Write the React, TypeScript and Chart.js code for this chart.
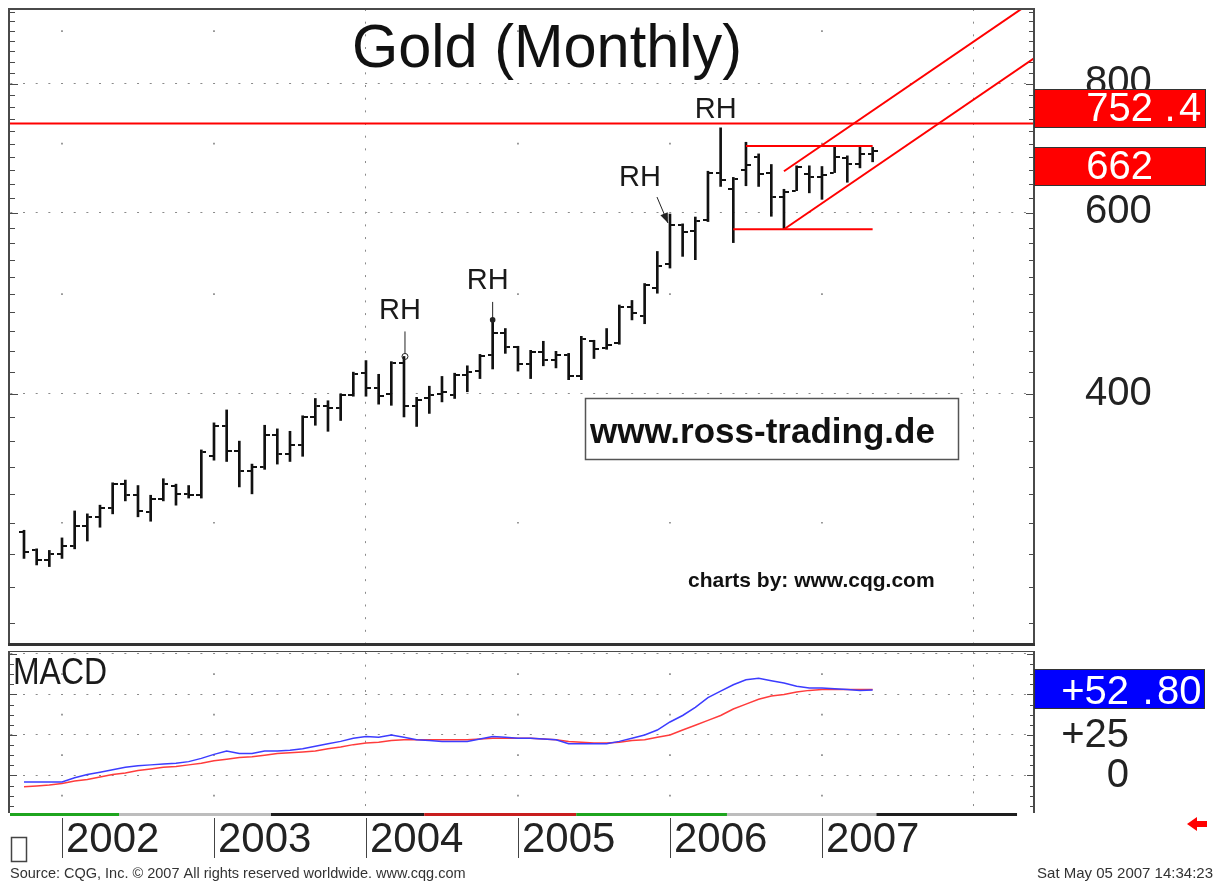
import React, { useEffect, useRef } from 'react';
import { Chart, registerables } from 'chart.js';

Chart.register(...registerables);

const FONT = '"Liberation Sans", Arial, Helvetica, sans-serif';

// ---- categories (monthly bars) ----
const months = [
  'Oct 2001', 'Nov 2001', 'Dec 2001',
  'Jan 2002', 'Feb 2002', 'Mar 2002', 'Apr 2002', 'May 2002', 'Jun 2002', 'Jul 2002', 'Aug 2002', 'Sep 2002', 'Oct 2002', 'Nov 2002', 'Dec 2002',
  'Jan 2003', 'Feb 2003', 'Mar 2003', 'Apr 2003', 'May 2003', 'Jun 2003', 'Jul 2003', 'Aug 2003', 'Sep 2003', 'Oct 2003', 'Nov 2003', 'Dec 2003',
  'Jan 2004', 'Feb 2004', 'Mar 2004', 'Apr 2004', 'May 2004', 'Jun 2004', 'Jul 2004', 'Aug 2004', 'Sep 2004', 'Oct 2004', 'Nov 2004', 'Dec 2004',
  'Jan 2005', 'Feb 2005', 'Mar 2005', 'Apr 2005', 'May 2005', 'Jun 2005', 'Jul 2005', 'Aug 2005', 'Sep 2005', 'Oct 2005', 'Nov 2005', 'Dec 2005',
  'Jan 2006', 'Feb 2006', 'Mar 2006', 'Apr 2006', 'May 2006', 'Jun 2006', 'Jul 2006', 'Aug 2006', 'Sep 2006', 'Oct 2006', 'Nov 2006', 'Dec 2006',
  'Jan 2007', 'Feb 2007', 'Mar 2007', 'Apr 2007', 'May 2007',
];

// ---- OHLC series ----
const opens = [294, 282, 276, 280, 285, 298, 304, 310, 327, 319, 307, 316, 326, 320, 319, 348, 372, 352, 337, 340, 365, 350, 357, 380, 389, 388, 399, 419, 405, 400, 429, 389, 396, 400, 399, 417, 421, 436, 458, 444, 428, 439, 432, 436, 416, 450, 443, 448, 486, 476, 507, 535, 583, 576, 590, 655, 633, 660, 680, 655, 621, 630, 654, 650, 656, 677, 668, 684];
const highs = [295, 283, 282, 290, 308, 306, 312, 328, 330, 326, 319, 331, 327, 326, 353, 375, 386, 360, 342, 373, 370, 368, 381, 396, 394, 400, 420, 431, 418, 430, 435, 397, 407, 416, 419, 426, 437, 472, 463, 445, 441, 450, 440, 438, 455, 451, 463, 488, 493, 512, 550, 598, 585, 594, 658, 725, 649, 702, 684, 668, 632, 666, 666, 665, 697, 681, 697, 694];
const lows = [277, 273, 272, 277, 283, 288, 297, 306, 315, 304, 301, 315, 312, 317, 317, 345, 344, 325, 320, 338, 342, 344, 348, 373, 368, 377, 398, 398, 391, 390, 380, 372, 383, 393, 396, 402, 414, 423, 438, 421, 414, 426, 424, 413, 413, 433, 442, 447, 472, 468, 501, 530, 544, 540, 588, 636, 561, 637, 636, 595, 578, 630, 627, 618, 656, 642, 663, 672];
const closes = [281, 276, 280, 285, 298, 304, 310, 327, 319, 308, 316, 327, 320, 319, 351, 372, 352, 337, 340, 365, 350, 357, 380, 389, 388, 399, 418, 405, 398, 429, 389, 395, 399, 402, 417, 420, 435, 458, 444, 428, 439, 432, 436, 416, 452, 442, 446, 486, 479, 510, 532, 583, 575, 589, 656, 645, 646, 667, 654, 621, 628, 664, 649, 652, 680, 668, 684, 689];

// ---- MACD series ----
const macdValues = [-4, -4, -4, -4, -1.5, 0.5, 2, 3.5, 5, 6, 6.5, 7, 7.5, 8.5, 10.5, 13, 15, 13.5, 13.5, 15, 15, 15.5, 16.5, 18, 19.5, 21, 23, 24, 23.5, 25, 23.5, 22, 21.5, 21, 21, 21, 22.5, 24, 23.5, 23, 23, 22.5, 22, 19.5, 19.5, 19.5, 19.5, 21, 23, 25, 28, 33, 37, 42, 48, 52, 56, 59, 60, 58.5, 57, 55, 54, 54, 53.5, 53, 52.5, 52.8];
const signalValues = [-7, -6.5, -6, -5, -3.5, -2.5, -1, 0.5, 1.5, 3, 4, 5, 5.5, 6.5, 7.5, 9, 10, 11, 11.5, 12.5, 13.5, 14, 14.5, 15, 16.5, 17.5, 19, 20, 20.5, 21.5, 22, 22, 22, 22, 22, 22, 22.5, 23, 23, 23, 23, 22.5, 22, 21, 20.5, 20, 20, 20.5, 21.5, 22, 23.5, 25, 28, 31, 34, 37, 41, 44, 47, 49, 50, 51.5, 52.5, 53, 53, 53, 53, 53];

// ---- axes / ticks ----
const yearLabels = ['2002', '2003', '2004', '2005', '2006', '2007'];
const yearStartIdx = [3, 15, 27, 39, 51, 63];
const gridYearIdx = [27, 75];
const dotYearIdx = [3, 15, 39, 51, 63];
const priceTicks = [400, 600, 800];
const priceDotLevels = [300, 500, 700, 900];
const macdTicks = [0, 25, 50, 75];
const macdTickLabels = ['0', '+25', '', ''];
const macdDotLevels = [-12.5, 12.5, 37.5, 62.5];

// ---- annotations (time index / price) ----
const resistanceLevel = 732;
const rangeTop = 696;
const rangeBottom = 578;
const rangeTopFrom = 57;
const rangeBottomFrom = 56;
const rangeTo = 67;
const channelFrom = 60;
const channelTo = 79.74;
const channelUpper = [658, 964];
const channelLower = [578, 847];
const priceFlags = [752.4, 662];
const macdFlag = 52.8;
const rhBars = [30, 37, 51, 55];

// colour strip under MACD
const stripStart = [-1.105, 7.5, 19.5, 31.6, 43.6, 55.5, 67.3];
const stripEnd = [7.5, 19.5, 31.6, 43.6, 55.5, 67.3, 78.4];
const stripColors = ['#1fa51f', '#bdbdbd', '#1e1e1e', '#c81e1e', '#1fa51f', '#bdbdbd', '#1e1e1e'];

const X_MIN = -1.105;
const X_MAX = 79.74;
const Y_MIN = 229.3;
const Y_MAX = 945.5;
const M_MIN = -22.6;
const M_MAX = 76.2;

function makeTick(side: 'left' | 'right') {
  const c = document.createElement('canvas');
  c.width = 10;
  c.height = 2;
  const g = c.getContext('2d')!;
  g.fillStyle = '#111';
  g.fillRect(side === 'left' ? 0 : 6, 0, 4, 2);
  return c;
}

function drawFlagText(ctx: CanvasRenderingContext2D, text: string, intRight: number, dotX: number, decLeft: number, baseline: number) {
  const [ip, dp] = text.split('.');
  ctx.fillStyle = '#ffffff';
  ctx.font = `40px ${FONT}`;
  ctx.textBaseline = 'alphabetic';
  ctx.textAlign = 'right';
  ctx.fillText(ip, intRight, baseline);
  if (dp !== undefined) {
    ctx.textAlign = 'center';
    ctx.fillText('.', dotX, baseline);
    ctx.textAlign = 'left';
    ctx.fillText(dp, decLeft, baseline);
  }
}

const rhLayout = [
  { dx: -4, dy: -37, kind: 'circle' },
  { dx: -5, dy: -31, kind: 'dot' },
  { dx: -30, dy: -28, kind: 'arrow' },
  { dx: -5, dy: -10, kind: 'none' },
];

const noPadY = (w: number) => (s: any) => {
  s.width = w;
  s.paddingTop = 0;
  s.paddingBottom = 0;
};
const noPadX = (h: number) => (s: any) => {
  s.height = h;
  s.paddingLeft = 0;
  s.paddingRight = 0;
};

const mainDecor = {
  id: 'mainDecor',
  afterDraw(chart: any) {
    const { ctx, chartArea: a } = chart;
    const xs = chart.scales.x;
    const ys = chart.scales.y;
    ctx.save();
    // frame
    ctx.fillStyle = '#4a4a4a';
    ctx.fillRect(a.left - 2, a.top - 1, 2, a.bottom - a.top + 1);
    ctx.fillRect(a.left - 2, a.top - 1, a.right - a.left + 3, 2);
    ctx.fillRect(a.right - 1, a.top - 1, 2, a.bottom - a.top + 1);
    ctx.fillStyle = '#333';
    ctx.fillRect(a.left - 2, a.bottom, a.right - a.left + 3, 3);
    // tick marks
    ctx.strokeStyle = '#4a4a4a';
    ctx.lineWidth = 1;
    for (let v = 240; v <= 940; v += 20) {
      const py = Math.round(ys.getPixelForValue(v)) + 0.5;
      const len = priceTicks.includes(v) ? 8 : 5;
      ctx.beginPath();
      ctx.moveTo(a.left, py);
      ctx.lineTo(a.left + len, py);
      ctx.moveTo(a.right - len, py);
      ctx.lineTo(a.right, py);
      ctx.stroke();
    }
    // title
    ctx.fillStyle = '#111';
    ctx.font = `62px ${FONT}`;
    ctx.textAlign = 'left';
    ctx.textBaseline = 'alphabetic';
    ctx.fillText('Gold (Monthly)', 352, 67, 390);

    // RH annotations
    rhBars.forEach((bi, k) => {
      const bx = xs.getPixelForValue(bi);
      const hy = ys.getPixelForValue(highs[bi]);
      const L = rhLayout[k];
      ctx.fillStyle = '#1a1a1a';
      ctx.font = `29px ${FONT}`;
      ctx.textAlign = 'center';
      ctx.fillText('RH', bx + L.dx, hy + L.dy);
      ctx.strokeStyle = '#222';
      ctx.lineWidth = 1;
      if (L.kind === 'circle') {
        ctx.beginPath();
        ctx.moveTo(bx + 1, hy - 25);
        ctx.lineTo(bx + 1, hy - 3);
        ctx.stroke();
        ctx.beginPath();
        ctx.arc(bx + 1, hy, 3, 0, Math.PI * 2);
        ctx.stroke();
      } else if (L.kind === 'dot') {
        ctx.beginPath();
        ctx.moveTo(bx, hy - 18);
        ctx.lineTo(bx, hy);
        ctx.stroke();
        ctx.fillStyle = '#222';
        ctx.beginPath();
        ctx.arc(bx, hy, 2.8, 0, Math.PI * 2);
        ctx.fill();
      } else if (L.kind === 'arrow') {
        const sx = bx - 13, sy = hy - 17, tx = bx - 2, ty = hy + 9;
        const ang = Math.atan2(ty - sy, tx - sx);
        ctx.beginPath();
        ctx.moveTo(sx, sy);
        ctx.lineTo(tx, ty);
        ctx.stroke();
        ctx.fillStyle = '#222';
        ctx.beginPath();
        ctx.moveTo(tx, ty);
        ctx.lineTo(tx - 10 * Math.cos(ang) + 4 * Math.sin(ang), ty - 10 * Math.sin(ang) - 4 * Math.cos(ang));
        ctx.lineTo(tx - 10 * Math.cos(ang) - 4 * Math.sin(ang), ty - 10 * Math.sin(ang) + 4 * Math.cos(ang));
        ctx.closePath();
        ctx.fill();
      }
    });

    // watermark boxes
    ctx.strokeStyle = '#555';
    ctx.lineWidth = 1.5;
    ctx.strokeRect(585.5, 398.5, 373, 61);
    ctx.fillStyle = '#111';
    ctx.font = `bold 35px ${FONT}`;
    ctx.textAlign = 'left';
    ctx.fillText('www.ross-trading.de', 590, 443, 353);
    ctx.font = `bold 21px ${FONT}`;
    ctx.fillText('charts by: www.cqg.com', 688, 587, 263);

    // price flags
    priceFlags.forEach((v) => {
      const py = ys.getPixelForValue(v);
      const top = Math.round(py - 22);
      ctx.fillStyle = '#ff0000';
      ctx.fillRect(a.right, top, 172, 39);
      ctx.strokeStyle = '#333';
      ctx.lineWidth = 1;
      ctx.strokeRect(a.right + 0.5, top + 0.5, 171, 38);
      drawFlagText(ctx, String(v), 1153, 1170, 1179, top + 31.5);
    });
    ctx.restore();
  },
};

const macdDecor = {
  id: 'macdDecor',
  afterDraw(chart: any) {
    const { ctx, chartArea: a } = chart;
    const xs = chart.scales.x;
    const ys = chart.scales.y;
    ctx.save();
    // frame
    ctx.fillStyle = '#4a4a4a';
    ctx.fillRect(a.left - 2, a.top - 1, 2, a.bottom - a.top + 2);
    ctx.fillRect(a.left - 2, a.top - 1, a.right - a.left + 3, 1);
    ctx.fillRect(a.right - 1, a.top - 1, 2, a.bottom - a.top + 2);
    // ticks
    ctx.strokeStyle = '#4a4a4a';
    ctx.lineWidth = 1;
    for (let v = -18.75; v <= 75; v += 6.25) {
      const py = Math.round(ys.getPixelForValue(v)) + 0.5;
      const len = macdTicks.includes(v) ? 7 : 4;
      ctx.beginPath();
      ctx.moveTo(a.left, py);
      ctx.lineTo(a.left + len, py);
      ctx.moveTo(a.right - len, py);
      ctx.lineTo(a.right, py);
      ctx.stroke();
    }
    // colour strip
    stripStart.forEach((s, k) => {
      const x0 = xs.getPixelForValue(s);
      const x1 = xs.getPixelForValue(stripEnd[k]);
      ctx.fillStyle = stripColors[k];
      ctx.fillRect(x0, a.bottom + 1, x1 - x0, 3);
    });
    // year tick lines
    ctx.strokeStyle = '#444';
    yearStartIdx.forEach((i) => {
      const px = Math.round(xs.getPixelForValue(i)) + 0.5;
      ctx.beginPath();
      ctx.moveTo(px, a.bottom + 6);
      ctx.lineTo(px, a.bottom + 46);
      ctx.stroke();
    });
    // MACD title
    ctx.fillStyle = '#1a1a1a';
    ctx.font = `37px ${FONT}`;
    ctx.textAlign = 'left';
    ctx.textBaseline = 'alphabetic';
    ctx.fillText('MACD', 13, a.top + 32, 94);
    // flag
    const py = ys.getPixelForValue(macdFlag);
    const top = Math.round(py - 21);
    ctx.fillStyle = '#0000ff';
    ctx.fillRect(a.right, top, 171, 40);
    ctx.strokeStyle = '#333';
    ctx.strokeRect(a.right + 0.5, top + 0.5, 170, 39);
    drawFlagText(ctx, '+' + macdFlag.toFixed(2), 1129, 1148, 1157, top + 35);
    // small square
    ctx.strokeStyle = '#444';
    ctx.lineWidth = 1.5;
    ctx.strokeRect(11.5, a.bottom + 25.5, 15, 24);
    // red arrow
    const cy = a.bottom + 12;
    ctx.fillStyle = '#ff0000';
    ctx.beginPath();
    ctx.moveTo(1187, cy);
    ctx.lineTo(1197, cy - 7);
    ctx.lineTo(1197, cy + 7);
    ctx.closePath();
    ctx.fill();
    ctx.fillRect(1196, cy - 3, 11, 6);
    // footer
    ctx.fillStyle = '#333';
    ctx.font = `14.5px ${FONT}`;
    ctx.textAlign = 'left';
    ctx.fillText('Source: CQG, Inc. \u00A9 2007 All rights reserved worldwide. www.cqg.com', 10, a.bottom + 66, 481);
    ctx.textAlign = 'right';
    ctx.font = `15px ${FONT}`;
    ctx.fillText('Sat May 05 2007 14:34:23', 1213, a.bottom + 66, 182);
    ctx.restore();
  },
};

export default function App() {
  const mainRef = useRef<HTMLCanvasElement>(null);
  const macdRef = useRef<HTMLCanvasElement>(null);

  useEffect(() => {
    const openImg = makeTick('left');
    const closeImg = makeTick('right');
    const idx = months.map((_, i) => i);
    const redLine = { borderColor: '#ff0000', borderWidth: 2, pointRadius: 0, tension: 0, order: 0, fill: false };

    const main = new Chart(mainRef.current!, {
      type: 'line',
      data: {
        datasets: [
          { ...redLine, type: 'line', label: 'Resistance', data: [{ x: X_MIN, y: resistanceLevel }, { x: X_MAX, y: resistanceLevel }] },
          { ...redLine, type: 'line', label: 'Range top', data: [{ x: rangeTopFrom, y: rangeTop }, { x: rangeTo, y: rangeTop }] },
          { ...redLine, type: 'line', label: 'Range bottom', data: [{ x: rangeBottomFrom, y: rangeBottom }, { x: rangeTo, y: rangeBottom }] },
          { ...redLine, type: 'line', label: 'Channel upper', data: [{ x: channelFrom, y: channelUpper[0] }, { x: channelTo, y: channelUpper[1] }] },
          { ...redLine, type: 'line', label: 'Channel lower', data: [{ x: channelFrom, y: channelLower[0] }, { x: channelTo, y: channelLower[1] }] },
          { type: 'scatter', label: 'Open', data: idx.map((i) => ({ x: i, y: opens[i] })), pointStyle: openImg, pointRadius: 3, showLine: false, order: 1 },
          { type: 'scatter', label: 'Close', data: idx.map((i) => ({ x: i, y: closes[i] })), pointStyle: closeImg, pointRadius: 3, showLine: false, order: 1 },
          { type: 'bar', label: 'High-Low', data: idx.map((i) => ({ x: i, y: [lows[i], highs[i]] })), backgroundColor: '#111', borderWidth: 0, barThickness: 2, order: 2 },
          {
            type: 'scatter', label: 'grid dots',
            data: dotYearIdx.flatMap((i) => priceDotLevels.map((v) => ({ x: i, y: v }))),
            pointStyle: 'rect', pointRadius: 1.2, backgroundColor: '#888', borderWidth: 0, showLine: false, order: 5,
          },
        ] as any,
      },
      options: {
        responsive: false,
        animation: false,
        events: [],
        layout: { padding: { left: 10, top: 9, right: 0, bottom: 3 } },
        plugins: { legend: { display: false }, tooltip: { enabled: false } },
        scales: {
          x: {
            type: 'linear', min: X_MIN, max: X_MAX, offset: false,
            afterBuildTicks: (s: any) => { s.ticks = gridYearIdx.map((v) => ({ value: v })); },
            afterFit: noPadX(0),
            ticks: { display: false },
            grid: { color: '#8a8a8a', lineWidth: 1, drawTicks: false, offset: false },
            border: { display: false, dash: [2, 10.67], dashOffset: 0 },
          },
          y: {
            type: 'logarithmic', position: 'right', min: Y_MIN, max: Y_MAX,
            afterBuildTicks: (s: any) => { s.ticks = priceTicks.map((v) => ({ value: v })); },
            afterFit: noPadY(181),
            ticks: {
              callback: (v: any) => String(v), autoSkip: false,
              font: { family: FONT, size: 40 }, color: '#222', padding: 51, crossAlign: 'near', labelOffset: -0.5,
            },
            grid: { color: '#8a8a8a', lineWidth: 1, drawTicks: false },
            border: { display: false, dash: [2, 10.67], dashOffset: 12.33 },
          },
        },
      } as any,
      plugins: [mainDecor],
    });

    const macd = new Chart(macdRef.current!, {
      type: 'line',
      data: {
        datasets: [
          { type: 'line', label: 'MACD', data: idx.map((i) => ({ x: i, y: macdValues[i] })), borderColor: '#3c3cff', borderWidth: 1.5, pointRadius: 0, tension: 0, order: 0 },
          { type: 'line', label: 'Signal', data: idx.map((i) => ({ x: i, y: signalValues[i] })), borderColor: '#ff3c3c', borderWidth: 1.5, pointRadius: 0, tension: 0, order: 1 },
          {
            type: 'scatter', label: 'grid dots',
            data: dotYearIdx.flatMap((i) => macdDotLevels.map((v) => ({ x: i, y: v }))),
            pointStyle: 'rect', pointRadius: 1.2, backgroundColor: '#888', borderWidth: 0, showLine: false, order: 5,
          },
        ] as any,
      },
      options: {
        responsive: false,
        animation: false,
        events: [],
        layout: { padding: { left: 10, top: 2, right: 86, bottom: 0 } },
        plugins: { legend: { display: false }, tooltip: { enabled: false } },
        scales: {
          x: {
            type: 'linear', min: X_MIN, max: X_MAX, offset: false,
            afterBuildTicks: (s: any) => { s.ticks = [...yearStartIdx, 75].map((v) => ({ value: v })); },
            afterFit: noPadX(69),
            ticks: {
              autoSkip: false, maxRotation: 0, minRotation: 0, align: 'start', labelOffset: 4, padding: 3,
              font: { family: FONT, size: 42, lineHeight: 1.2 }, color: '#222',
              callback: (v: any) => { const k = yearStartIdx.indexOf(v); return k >= 0 ? yearLabels[k] : ''; },
            },
            grid: {
              color: (c: any) => (c.tick && gridYearIdx.includes(c.tick.value) ? '#8a8a8a' : 'rgba(0,0,0,0)'),
              lineWidth: 1, drawTicks: false, offset: false,
            },
            border: { display: false, dash: [2, 10.67], dashOffset: 0 },
          },
          y: {
            type: 'linear', position: 'right', min: M_MIN, max: M_MAX,
            afterBuildTicks: (s: any) => { s.ticks = macdTicks.map((v) => ({ value: v })); },
            afterFit: noPadY(95),
            ticks: {
              callback: (v: any) => macdTickLabels[macdTicks.indexOf(v)] ?? '', autoSkip: false,
              font: { family: FONT, size: 40 }, color: '#222', padding: 27, crossAlign: 'far', labelOffset: 1,
            },
            grid: { color: '#8a8a8a', lineWidth: 1, drawTicks: false },
            border: { display: false, dash: [2, 10.67], dashOffset: 12.33 },
          },
        },
      } as any,
      plugins: [macdDecor],
    });

    return () => {
      main.destroy();
      macd.destroy();
    };
  }, []);

  return (
    <div style={{ position: 'absolute', left: 0, top: 0, width: 1215, height: 881, background: '#fff', overflow: 'hidden' }}>
      <canvas ref={mainRef} width={1215} height={648} style={{ position: 'absolute', left: 0, top: 0, width: 1215, height: 648 }} />
      <canvas ref={macdRef} width={1215} height={233} style={{ position: 'absolute', left: 0, top: 648, width: 1215, height: 233 }} />
    </div>
  );
}
